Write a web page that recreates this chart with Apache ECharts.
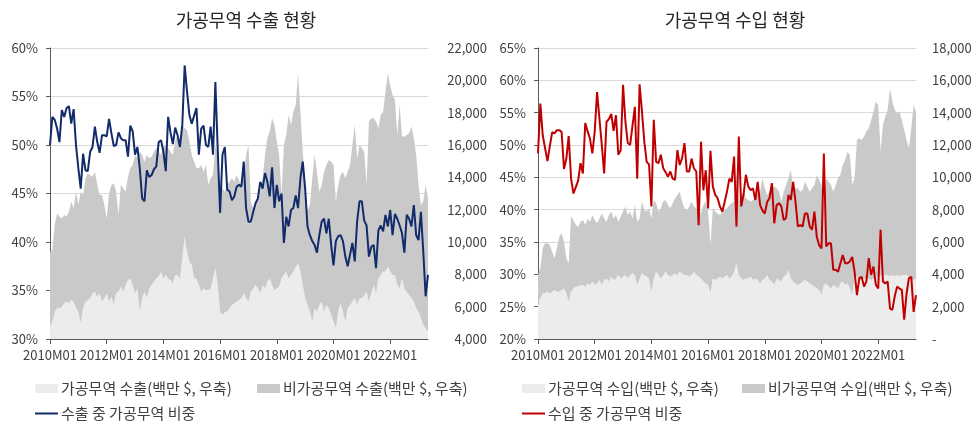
<!DOCTYPE html>
<html>
<head>
<meta charset="utf-8">
<script src="https://cdn.jsdelivr.net/npm/echarts@6.0.0/dist/echarts.min.js"></script>
<style>
html, body { margin: 0; padding: 0; background: #fff; }
#chart { width: 978px; height: 425px; }
</style>
</head>
<body>
<div id="chart"></div>
<script>
// Monthly categories 2010M01 .. 2023M05
const months = [];
for (let y = 2010; y <= 2023; y++) {
  for (let m = 1; m <= 12; m++) {
    if (y === 2023 && m > 5) break;
    months.push(y + 'M' + String(m).padStart(2, '0'));
  }
}

// Exports: processing-trade share (%)
const expRatio = [
  50.0, 52.9, 52.6, 51.7, 50.3, 53.6, 52.9, 53.8, 54.0, 52.2,
  53.7, 50.0, 47.6, 45.5, 49.1, 47.4, 47.3, 49.3, 49.8, 51.9,
  50.3, 49.2, 51.0, 51.0, 50.9, 52.7, 51.2, 49.9, 50.0, 51.3,
  50.7, 50.5, 50.5, 48.8, 52.0, 51.4, 49.0, 49.8, 47.6, 44.5,
  44.2, 47.4, 46.7, 46.9, 47.5, 47.8, 50.3, 50.5, 49.3, 47.3,
  52.9, 51.3, 50.1, 51.8, 51.0, 49.8, 52.1, 58.2, 55.5, 53.1,
  52.2, 53.0, 53.8, 49.0, 51.7, 52.0, 50.0, 49.8, 51.9, 49.0,
  56.5, 49.5, 43.0, 49.0, 49.8, 45.4, 45.2, 44.3, 44.7, 45.7,
  45.9, 45.7, 48.3, 43.5, 42.1, 42.1, 43.1, 44.0, 44.5, 46.2,
  45.5, 47.1, 46.2, 44.7, 47.7, 43.5, 45.9, 44.2, 45.0, 39.9,
  42.6, 41.6, 43.3, 43.5, 44.8, 43.5, 46.6, 48.3, 45.5, 41.6,
  40.7, 40.1, 39.7, 38.9, 40.7, 42.1, 42.4, 40.9, 42.4, 39.7,
  37.6, 40.1, 40.6, 40.7, 40.1, 38.5, 37.5, 38.7, 39.9, 38.0,
  42.1, 44.2, 44.2, 42.2, 41.7, 38.5, 39.5, 39.7, 37.3, 41.2,
  41.7, 41.1, 42.8, 41.6, 43.3, 40.7, 42.9, 42.4, 41.7, 40.9,
  38.9, 42.8, 42.4, 41.6, 43.8, 40.7, 40.2, 43.1, 39.0, 34.4,
  36.6
];

// Exports: processing trade (million $)
const procExp = [
  4870, 5070, 5690, 5900, 5900, 6000, 6210, 6310, 6210, 6410,
  6310, 5900, 5690, 4970, 5900, 6310, 6410, 6520, 6830, 6930,
  6620, 6830, 6310, 6520, 6830, 6310, 6620, 6100, 6830, 6930,
  7240, 6930, 7340, 7650, 7750, 7340, 6830, 7130, 5690, 6520,
  6930, 6520, 7130, 7340, 7550, 7750, 7860, 8170, 7750, 7960,
  7750, 7650, 7440, 7960, 7960, 7750, 8990, 10330, 9400, 8780,
  8580, 7750, 7750, 7340, 6930, 7130, 7030, 7030, 7130, 7750,
  8370, 7340, 5690, 5490, 5690, 5690, 5900, 6100, 6210, 6310,
  6420, 6520, 6830, 6520, 6310, 6930, 7130, 7340, 7130, 6830,
  7340, 7130, 7550, 7750, 7340, 7030, 7130, 7240, 7750, 7960,
  8170, 7750, 7960, 8170, 8470, 8680, 8170, 7340, 6520, 6100,
  5690, 5070, 5900, 5690, 6100, 6310, 5690, 6100, 5900, 5500,
  5070, 4660, 5690, 6210, 5690, 5070, 5900, 6100, 6310, 6520,
  6100, 6520, 6520, 6720, 6930, 6310, 6830, 7340, 6830, 7750,
  7960, 8170, 8170, 8470, 8170, 7960, 7960, 7340, 7130, 7750,
  7130, 6930, 6720, 6520, 6310, 5900, 5690, 5280, 4870, 4660,
  4450
];

// Exports: non-processing trade (million $)
const nonProcExp = [
  4530, 4430, 5360, 5870, 5670, 5460, 5460, 5260, 5670, 6090,
  5770, 7210, 6600, 8140, 7010, 7630, 7840, 7630, 7210, 7420,
  6910, 6080, 6600, 5770, 4630, 6700, 6910, 7530, 6280, 4740,
  6290, 6390, 5770, 6390, 6810, 7420, 8550, 8050, 9900, 8860,
  8040, 8860, 8050, 7940, 8040, 8050, 7730, 7210, 8250, 7940,
  8050, 7940, 7940, 8250, 8660, 8250, 8250, 6700, 7530, 7430,
  6800, 7220, 6810, 7220, 7830, 7220, 7730, 6500, 6810, 6400,
  7630, 8040, 6810, 7830, 7420, 7840, 7830, 7840, 7520, 7840,
  7380, 7010, 7110, 8860, 9690, 5570, 4950, 4950, 5570, 6280,
  6600, 8250, 8860, 9080, 10310, 10210, 9080, 8140, 5160, 8040,
  8450, 10110, 9280, 9890, 10010, 11750, 9890, 8250, 7010, 5780,
  6600, 8870, 9480, 8660, 7010, 7220, 8660, 8660, 9170, 9470,
  9690, 7840, 7840, 7940, 8660, 8870, 8450, 8660, 9690, 10720,
  9080, 9480, 9280, 8870, 6600, 11130, 10820, 10310, 10610, 9280,
  9900, 9890, 11130, 11960, 11540, 11130, 10830, 9280, 11350, 8770,
  9390, 9690, 10000, 10620, 10100, 9480, 7840, 7010, 7630, 8870,
  8250
];

// Imports: processing-trade share (%)
const impRatio = [
  48.7, 56.4, 51.5, 49.5, 47.5, 49.8, 52.0, 51.8, 52.3, 52.3,
  52.0, 46.3, 47.9, 51.4, 44.8, 42.5, 43.5, 44.5, 47.2, 45.6,
  53.4, 52.1, 51.0, 48.7, 52.0, 58.2, 54.1, 50.0, 45.6, 53.6,
  54.0, 54.8, 52.2, 54.6, 48.5, 49.2, 59.3, 53.6, 50.3, 50.0,
  53.0, 55.9, 44.8, 59.4, 55.2, 50.5, 47.4, 47.0, 40.5, 53.9,
  47.4, 47.2, 48.5, 46.4, 45.8, 45.1, 45.9, 44.8, 44.6, 49.2,
  46.9, 48.0, 50.3, 45.9, 45.9, 47.9, 46.4, 45.9, 37.6, 50.5,
  43.0, 46.1, 40.2, 49.1, 43.6, 42.3, 41.8, 40.5, 39.7, 41.2,
  42.8, 44.8, 44.3, 48.2, 37.4, 51.3, 40.5, 42.3, 45.4, 43.6,
  43.0, 43.3, 41.5, 44.3, 40.7, 39.9, 39.4, 41.2, 41.8, 44.1,
  37.9, 40.7, 41.0, 40.5, 38.4, 38.7, 42.3, 41.5, 44.3, 41.2,
  37.4, 37.6, 37.4, 39.4, 39.4, 37.4, 36.9, 39.7, 35.8, 34.5,
  34.0, 48.7, 34.3, 34.8, 34.8, 30.7, 30.7, 30.4, 31.7, 33.0,
  31.7, 31.7, 32.0, 32.7, 30.4, 26.8, 29.4, 29.6, 28.1, 28.9,
  32.5, 29.9, 31.2, 28.4, 27.8, 36.9, 28.9, 28.6, 28.9, 24.7,
  24.5, 26.6, 28.1, 27.8, 27.6, 23.0, 27.0, 29.4, 29.6, 24.2,
  26.8
];

// Imports: processing trade (million $)
const procImp = [
  2100, 2520, 2830, 2830, 2930, 2830, 2930, 3030, 2930, 2930,
  3030, 3130, 2830, 2310, 2930, 3130, 3240, 3240, 3340, 3340,
  3240, 3440, 3340, 3550, 3340, 3440, 3650, 3340, 3650, 3750,
  3550, 3860, 3650, 3750, 3960, 3750, 3860, 3960, 3750, 3960,
  4060, 3960, 3340, 3750, 4060, 3960, 3860, 3750, 2930, 3750,
  4170, 3960, 3750, 3960, 4170, 3960, 3860, 3960, 4060, 3960,
  4170, 4060, 3960, 3960, 3860, 3960, 4170, 3960, 3860, 3750,
  3550, 3440, 3340, 2830, 3750, 3650, 3750, 3860, 3750, 3860,
  3960, 3750, 3860, 4170, 4680, 3960, 3750, 3650, 3750, 3750,
  3860, 3650, 3750, 3650, 3440, 3650, 3750, 3960, 3650, 3550,
  3340, 3750, 3650, 3550, 3860, 3960, 4270, 3750, 3550, 3440,
  3340, 3440, 3550, 3650, 3550, 3440, 3340, 3240, 3130, 3030,
  2720, 3340, 3440, 3240, 3130, 3340, 3240, 3130, 3440, 3550,
  3340, 3440, 3130, 2720, 3750, 3860, 3750, 3650, 3750, 3650,
  3750, 3650, 3750, 3960, 3750, 3960, 3960, 3960, 3960, 3860,
  3960, 3860, 3960, 3860, 3960, 3960, 3960, 3860, 3750, 3650,
  3750
];

// Imports: non-processing trade (million $)
const nonProcImp = [
  1860, 1850, 2780, 3090, 2990, 2990, 2470, 1960, 2680, 3400,
  3510, 2890, 2160, 2370, 4640, 4230, 3810, 3710, 3920, 4020,
  3810, 4020, 3920, 4120, 4020, 3720, 3810, 4430, 3810, 3510,
  4120, 4020, 3810, 3920, 3300, 3820, 4020, 4230, 3920, 3920,
  3400, 4330, 3920, 3710, 4440, 4020, 4020, 4330, 4530, 4850,
  4220, 3920, 4330, 4540, 4430, 4330, 4220, 4430, 4640, 4950,
  4940, 4440, 4120, 4020, 4330, 4540, 4020, 4120, 4020, 4020,
  4740, 5060, 4540, 2990, 4330, 4230, 4020, 3810, 4130, 4120,
  4120, 4540, 4530, 4330, 5470, 4540, 5050, 5460, 4950, 4850,
  4640, 4950, 4950, 5360, 5670, 6290, 5570, 4950, 5460, 5980,
  6080, 5570, 5460, 4950, 5250, 5570, 5670, 6700, 5870, 5880,
  5980, 5670, 5670, 6080, 5870, 5670, 5980, 6290, 7020, 6810,
  6810, 4950, 6500, 6490, 6400, 5770, 6290, 6810, 6710, 7210,
  7730, 8150, 8250, 6810, 6190, 8450, 8660, 8660, 8770, 9180,
  9280, 9900, 10310, 10720, 10730, 7630, 9280, 9790, 10210, 11650,
  10720, 10310, 10000, 10200, 9590, 8970, 8350, 7940, 9280, 10830,
  10310
];

// Axis ranges and tick steps
const expPctAxis = { min: 30, max: 60, step: 5 };
const expValAxis = { min: 4000, max: 22000, step: 2000 };
const impPctAxis = { min: 20, max: 65, step: 5 };
const impValAxis = { min: 0, max: 18000, step: 2000 };

const names = {
  procExp: '가공무역 수출(백만 $, 우축)',
  nonProcExp: '비가공무역 수출(백만 $, 우축)',
  expRatio: '수출 중 가공무역 비중',
  procImp: '가공무역 수입(백만 $, 우축)',
  nonProcImp: '비가공무역 수입(백만 $, 우축)',
  impRatio: '수입 중 가공무역 비중'
};

const FONT = '"Noto Sans CJK KR", "Noto Sans", sans-serif';
const LABEL = '#404040';
const AXIS = '#595959';
const GRID = '#d9d9d9';
const LIGHT = '#ececec';
const DARK = '#c9c9c9';
const NAVY = '#112b6b';
const RED = '#c00000';

const comma = v => v.toLocaleString('en-US');

function xAxisFor(gi) {
  return {
    type: 'category', gridIndex: gi, data: months, boundaryGap: false,
    axisLine: { lineStyle: { color: AXIS, width: 1 } },
    axisTick: { interval: 23, length: 5, lineStyle: { color: AXIS } },
    axisLabel: { interval: 23, fontSize: 13, color: LABEL, margin: 10, fontFamily: FONT, hideOverlap: false },
    splitLine: { show: false }
  };
}
function pctAxis(gi, r) {
  return {
    type: 'value', gridIndex: gi, position: 'left', min: r.min, max: r.max, interval: r.step,
    axisLine: { show: true, lineStyle: { color: AXIS } },
    axisTick: { show: true, length: 4, lineStyle: { color: AXIS } },
    axisLabel: { formatter: '{value}%', fontSize: 13, color: LABEL, margin: 12, fontFamily: FONT },
    splitLine: { show: true, lineStyle: { color: GRID, width: 1 } }
  };
}
function valAxis(gi, r, labelOpts) {
  return {
    type: 'value', gridIndex: gi, position: 'right', min: r.min, max: r.max, interval: r.step,
    axisLine: { show: false }, axisTick: { show: false }, splitLine: { show: false },
    axisLabel: Object.assign({ fontSize: 13, color: LABEL, fontFamily: FONT }, labelOpts)
  };
}
function areaSeries(name, data, xi, yi, stack, color, first) {
  return {
    name, type: 'line', data, xAxisIndex: xi, yAxisIndex: yi, stack,
    symbol: 'none', showSymbol: false, silent: true, z: 1,
    color, itemStyle: { color },
    lineStyle: { width: 0, color },
    areaStyle: first ? { color, opacity: 1, origin: 'start' } : { color, opacity: 1 }
  };
}
function ratioSeries(name, data, xi, yi, color) {
  return {
    name, type: 'line', data, xAxisIndex: xi, yAxisIndex: yi,
    symbol: 'none', showSymbol: false, z: 3,
    color, itemStyle: { color },
    lineStyle: { width: 2, color }
  };
}
function legendItem(name, left, top, isLine) {
  return {
    data: [name], left, top, padding: 0, selectedMode: false,
    icon: 'rect', itemWidth: 23, itemHeight: isLine ? 2 : 9, itemGap: 0,
    textStyle: { fontSize: 15, color: LABEL, fontFamily: FONT, padding: [0, 0, 0, -2] }
  };
}

const option = {
  animation: false,
  backgroundColor: '#fff',
  textStyle: { fontFamily: FONT },
  graphic: [
    { type: 'text', x: 246, y: 20, style: { text: '가공무역 수출 현황', font: '18px ' + FONT, fill: '#262626', textAlign: 'center', textVerticalAlign: 'middle' } },
    { type: 'text', x: 735, y: 20, style: { text: '가공무역 수입 현황', font: '18px ' + FONT, fill: '#262626', textAlign: 'center', textVerticalAlign: 'middle' } }
  ],
  grid: [
    { left: 50, top: 48, width: 378, height: 291, outerBoundsMode: 'none', containLabel: false },
    { left: 538, top: 48, width: 378, height: 291, outerBoundsMode: 'none', containLabel: false }
  ],
  xAxis: [xAxisFor(0), xAxisFor(1)],
  yAxis: [
    pctAxis(0, expPctAxis),
    valAxis(0, expValAxis, { formatter: v => comma(v), align: 'right', margin: 59 }),
    pctAxis(1, impPctAxis),
    valAxis(1, impValAxis, { formatter: v => (v === 0 ? '-' : comma(v)), align: 'left', margin: 16 })
  ],
  legend: [
    legendItem(names.procExp, 35, 381, false),
    legendItem(names.nonProcExp, 257, 381, false),
    legendItem(names.expRatio, 35, 406, true),
    legendItem(names.procImp, 522, 381, false),
    legendItem(names.nonProcImp, 742, 381, false),
    legendItem(names.impRatio, 522, 406, true)
  ],
  series: [
    areaSeries(names.procExp, procExp, 0, 1, 'exp', LIGHT, true),
    areaSeries(names.nonProcExp, nonProcExp, 0, 1, 'exp', DARK, false),
    ratioSeries(names.expRatio, expRatio, 0, 0, NAVY),
    areaSeries(names.procImp, procImp, 1, 3, 'imp', LIGHT, true),
    areaSeries(names.nonProcImp, nonProcImp, 1, 3, 'imp', DARK, false),
    ratioSeries(names.impRatio, impRatio, 1, 2, RED)
  ]
};

const chart = echarts.init(document.getElementById('chart'), null, { renderer: 'canvas' });
chart.setOption(option);
</script>
</body>
</html>
